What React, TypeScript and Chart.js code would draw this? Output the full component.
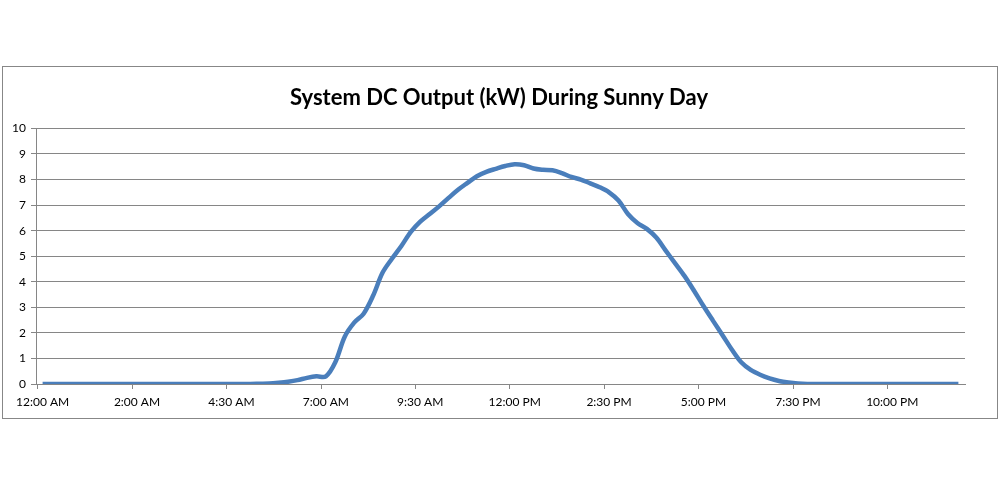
import React, { useEffect, useRef } from "react";
import { Chart, registerables } from "chart.js";

Chart.register(...registerables);

const TITLE = "System DC Output (kW) During Sunny Day";

const TIMES: string[] = [
  "12:00 AM", "12:12 AM", "12:24 AM", "12:36 AM", "12:48 AM", "1:00 AM", "1:12 AM", "1:24 AM", "1:36 AM", "1:48 AM",
  "2:00 AM", "2:15 AM", "2:30 AM", "2:45 AM",
  "3:00 AM", "3:15 AM", "3:30 AM", "3:45 AM",
  "4:00 AM", "4:15 AM", "4:30 AM", "4:45 AM",
  "5:00 AM", "5:15 AM", "5:30 AM", "5:45 AM",
  "6:00 AM", "6:15 AM", "6:30 AM", "6:45 AM",
  "7:00 AM", "7:15 AM", "7:30 AM", "7:45 AM",
  "8:00 AM", "8:15 AM", "8:30 AM", "8:45 AM",
  "9:00 AM", "9:15 AM", "9:30 AM", "9:45 AM",
  "10:00 AM", "10:15 AM", "10:30 AM", "10:45 AM",
  "11:00 AM", "11:15 AM", "11:30 AM", "11:45 AM",
  "12:00 PM", "12:15 PM", "12:30 PM", "12:45 PM",
  "1:00 PM", "1:15 PM", "1:30 PM", "1:45 PM",
  "2:00 PM", "2:15 PM", "2:30 PM", "2:45 PM",
  "3:00 PM", "3:15 PM", "3:30 PM", "3:45 PM",
  "4:00 PM", "4:15 PM", "4:30 PM", "4:45 PM",
  "5:00 PM", "5:15 PM", "5:30 PM", "5:45 PM",
  "6:00 PM", "6:15 PM", "6:30 PM", "6:45 PM",
  "7:00 PM", "7:15 PM", "7:30 PM", "7:45 PM",
  "8:00 PM", "8:15 PM", "8:30 PM", "8:45 PM",
  "9:00 PM", "9:15 PM", "9:30 PM", "9:45 PM",
  "10:00 PM", "10:15 PM", "10:30 PM", "10:45 PM",
  "11:00 PM", "11:15 PM", "11:30 PM", "11:45 PM",
];

// DC output in kW
const OUTPUT_KW: number[] = [
  0, 0, 0, 0, 0, 0, 0, 0, 0, 0,
  0, 0, 0, 0,
  0, 0, 0, 0,
  0, 0, 0, 0,
  0, 0.01, 0.02, 0.05,
  0.09, 0.15, 0.24, 0.3,
  0.3, 0.85, 1.85, 2.4,
  2.75, 3.45, 4.35, 4.9,
  5.4, 5.95, 6.35, 6.65,
  6.95, 7.28, 7.6, 7.87,
  8.13, 8.3, 8.42, 8.53,
  8.6, 8.56, 8.43, 8.38,
  8.36, 8.25, 8.1, 8.0,
  7.85, 7.7, 7.5, 7.18,
  6.65, 6.3, 6.07, 5.73,
  5.22, 4.72, 4.22, 3.65,
  3.05, 2.48, 1.92, 1.35,
  0.85, 0.55, 0.36, 0.22,
  0.12, 0.06, 0.02, 0,
  0, 0, 0, 0,
  0, 0, 0, 0,
  0, 0, 0, 0,
  0, 0, 0, 0,
];

const LABEL_EVERY = 10;
const Y_MIN = 0;
const Y_MAX = 10;
const Y_STEP = 1;

export default function App() {
  const canvasRef = useRef<HTMLCanvasElement | null>(null);

  useEffect(() => {
    if (!canvasRef.current) return;
    const gridColor = "#868686";
    const points = OUTPUT_KW.map((v, i) => ({ x: i, y: v }));
    const chart = new Chart(canvasRef.current, {
      type: "line",
      data: {
        datasets: [
          {
            label: "DC Output (kW)",
            data: points,
            borderColor: "#4a7ebb",
            backgroundColor: "#4a7ebb",
            borderWidth: 4.5,
            pointRadius: 0,
            pointHoverRadius: 0,
            tension: 0.33,
            borderCapStyle: "butt",
            borderJoinStyle: "round",
            fill: false,
          },
        ],
      },
      options: {
        animation: false,
        responsive: true,
        maintainAspectRatio: false,
        layout: { padding: { left: 3, right: 5, top: 0, bottom: 0 } },
        plugins: {
          legend: { display: false },
          tooltip: { enabled: false },
          title: {
            display: true,
            text: TITLE,
            color: "#000",
            font: { family: "Lato", size: 22, weight: "bold", lineHeight: 1.2 },
            padding: { top: 18, bottom: 17 },
          },
        },
        scales: {
          x: {
            type: "linear",
            min: -0.7,
            max: TIMES.length - 1 + 0.7,
            afterBuildTicks: (scale: any) => {
              const ticks: { value: number }[] = [];
              for (let i = 0; i < TIMES.length; i += LABEL_EVERY) ticks.push({ value: i - 0.5 });
              scale.ticks = ticks;
            },
            grid: {
              display: true,
              drawOnChartArea: false,
              drawTicks: true,
              tickLength: 5,
              lineWidth: 1,
              color: gridColor,
            },
            border: { display: true, color: gridColor, width: 1 },
            ticks: {
              autoSkip: false,
              maxRotation: 0,
              minRotation: 0,
              padding: 6,
              labelOffset: 4.7,
              color: "#000",
              font: { family: "Lato", size: 12 },
              callback: (v: any) => {
                const idx = Math.round(Number(v) + 0.5);
                return TIMES[idx] ?? "";
              },
            },
            afterFit: (scale: any) => {
              scale.height = 34;
            },
          },
          y: {
            min: Y_MIN,
            max: Y_MAX,
            grid: {
              color: gridColor,
              lineWidth: 1,
              drawTicks: true,
              tickLength: 5,
            },
            border: { display: true, color: gridColor, width: 1 },
            ticks: {
              stepSize: Y_STEP,
              padding: 5,
              color: "#000",
              font: { family: "Lato", size: 12 },
            },
            afterFit: (scale: any) => {
              scale.width = 30;
            },
          },
          yRight: {
            position: "right",
            min: Y_MIN,
            max: Y_MAX,
            grid: { display: false, drawTicks: false },
            border: { display: false },
            ticks: { display: false },
            afterFit: (scale: any) => {
              scale.width = 27;
            },
          },
        },
      },
    });
    return () => chart.destroy();
  }, []);

  return (
    <div style={{ position: "fixed", left: 0, top: 0, width: 1000, height: 485, background: "#fff" }}>
      <div
        style={{
          position: "absolute",
          left: 2,
          top: 66,
          width: 996,
          height: 353,
          boxSizing: "border-box",
          border: "1px solid #878787",
        }}
      >
        <div style={{ position: "relative", width: "100%", height: "100%" }}>
          <canvas ref={canvasRef} style={{ display: "block" }} />
        </div>
      </div>
    </div>
  );
}
